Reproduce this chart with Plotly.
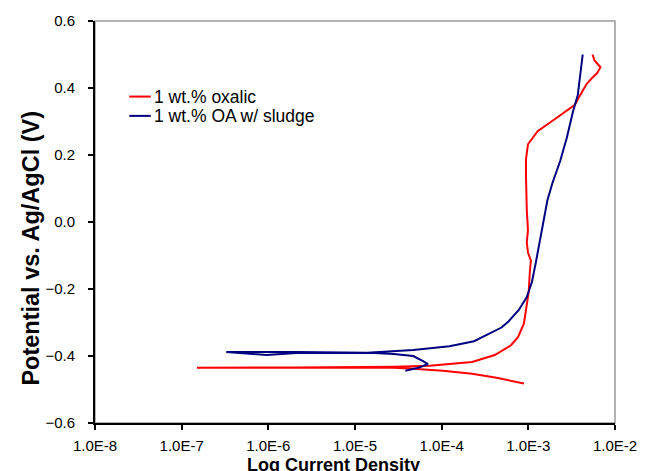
import plotly.graph_objects as go

# 1 wt.% oxalic (red): current density (A/cm2) and potential (V)
oxalic_i = [8.9e-4, 4.3e-4, 2.24e-4, 1.03e-4, 4.7e-5, 2.8e-5, 2.1e-6, 1.5e-7,
            2.1e-6, 2.8e-5, 7.3e-5, 2.24e-4, 4.1e-4, 6.3e-4, 7.6e-4, 8.9e-4,
            9.6e-4, 1.01e-3, 1.04e-3, 1.07e-3, 9.9e-4, 9.6e-4, 9.9e-4, 9.6e-4,
            9.4e-4, 9.4e-4, 9.9e-4, 1.28e-3, 2.15e-3, 3.44e-3, 3.75e-3, 4.3e-3,
            4.7e-3, 5.4e-3, 6.2e-3, 6.8e-3, 5.8e-3, 5.5e-3]
oxalic_e = [-0.482, -0.465, -0.453, -0.444, -0.438, -0.435, -0.435, -0.435,
            -0.434, -0.432, -0.429, -0.418, -0.397, -0.368, -0.344, -0.303,
            -0.253, -0.209, -0.150, -0.115, -0.091, -0.062, -0.024, 0.035,
            0.135, 0.188, 0.232, 0.271, 0.312, 0.350, 0.368, 0.394,
            0.412, 0.429, 0.444, 0.462, 0.482, 0.500]

# 1 wt.% OA w/ sludge (navy)
sludge_i = [3.8e-5, 5.4e-5, 6.95e-5, 6.1e-5, 4.7e-5, 2.8e-5, 1.66e-5, 2.1e-6,
            9.5e-7, 3.27e-7, 2.1e-6, 1.38e-5, 4.7e-5, 1.23e-4, 2.36e-4, 3.48e-4,
            4.9e-4, 5.9e-4, 7.8e-4, 9.6e-4, 1.1e-3, 1.22e-3, 1.35e-3, 1.46e-3,
            1.66e-3, 1.89e-3, 2.33e-3, 2.79e-3, 3.27e-3, 3.72e-3, 3.92e-3, 4.24e-3]
sludge_e = [-0.444, -0.435, -0.424, -0.415, -0.400, -0.394, -0.391, -0.391,
            -0.397, -0.388, -0.388, -0.390, -0.382, -0.371, -0.356, -0.335,
            -0.315, -0.297, -0.262, -0.224, -0.179, -0.121, -0.062, -0.012,
            0.065, 0.115, 0.182, 0.253, 0.329, 0.379, 0.429, 0.500]

x_tickvals = [1e-8, 1e-7, 1e-6, 1e-5, 1e-4, 1e-3, 1e-2]
x_ticktext = ["1.0E-8", "1.0E-7", "1.0E-6", "1.0E-5", "1.0E-4", "1.0E-3", "1.0E-2"]
y_tickvals = [-0.6, -0.4, -0.2, 0.0, 0.2, 0.4, 0.6]

series = [
    ("1 wt.% oxalic", oxalic_i, oxalic_e, "#FF0000"),
    ("1 wt.% OA w/ sludge", sludge_i, sludge_e, "#000080"),
]

fig = go.Figure()
for name, xs, ys, col in series:
    fig.add_trace(go.Scatter(x=xs, y=ys, mode="lines", name=name,
                             line=dict(color=col, width=2), showlegend=False))

font = "Arial, Liberation Sans, sans-serif"
fig.update_layout(
    width=649, height=471, autosize=False,
    margin=dict(l=95, r=23, t=15, b=48),
    paper_bgcolor="white", plot_bgcolor="white",
    font=dict(family=font, size=15, color="black"),
    xaxis=dict(type="log", range=[-8, -2], tickvals=x_tickvals, ticktext=x_ticktext,
               showgrid=False, zeroline=False, showline=True, linecolor="black",
               linewidth=2, ticks="outside", ticklen=5, tickwidth=1.5,
               tickcolor="black", tickfont=dict(size=15), ticklabelstandoff=3),
    yaxis=dict(range=[-0.6, 0.6], tickvals=y_tickvals, tickformat=".1f",
               showgrid=False, zeroline=False, showline=True, linecolor="black",
               linewidth=2, ticks="outside", ticklen=5, tickwidth=1.5,
               tickcolor="black", tickfont=dict(size=15), ticklabelstandoff=10),
    shapes=[dict(type="rect", xref="paper", yref="paper", x0=0, y0=0, x1=1, y1=1,
                 line=dict(color="#999999", width=1.5), layer="below")],
)

# axis titles
fig.add_annotation(text="<b>Log Current Density</b>", xref="paper", yref="paper",
                   x=0.5, xshift=-22, y=0, yshift=-42, yanchor="middle", showarrow=False,
                   font=dict(size=18, family=font))
fig.add_annotation(text="<b>Potential vs. Ag/AgCl (V)</b>", xref="paper", yref="paper",
                   x=0, xshift=-64, y=(423 - 246) / 408, textangle=-90,
                   xanchor="center", yanchor="middle", showarrow=False,
                   font=dict(size=23.5, family=font))

# legend (manual)
leg_rows = [(0.812, series[0]), (0.764, series[1])]
for yp, (name, _, _, col) in leg_rows:
    fig.add_shape(type="line", xref="paper", yref="paper", x0=0.0659, x1=0.1073,
                  y0=yp, y1=yp, line=dict(color=col, width=2))
    fig.add_annotation(text=name, xref="paper", yref="paper", x=0.1149, xshift=-3, y=yp,
                       xanchor="left", yanchor="middle", showarrow=False,
                       font=dict(size=17.5, family=font))

fig.write_html("out.html",
               config={"displayModeBar": False, "responsive": False},
               post_script="document.body.style.margin='0';")
